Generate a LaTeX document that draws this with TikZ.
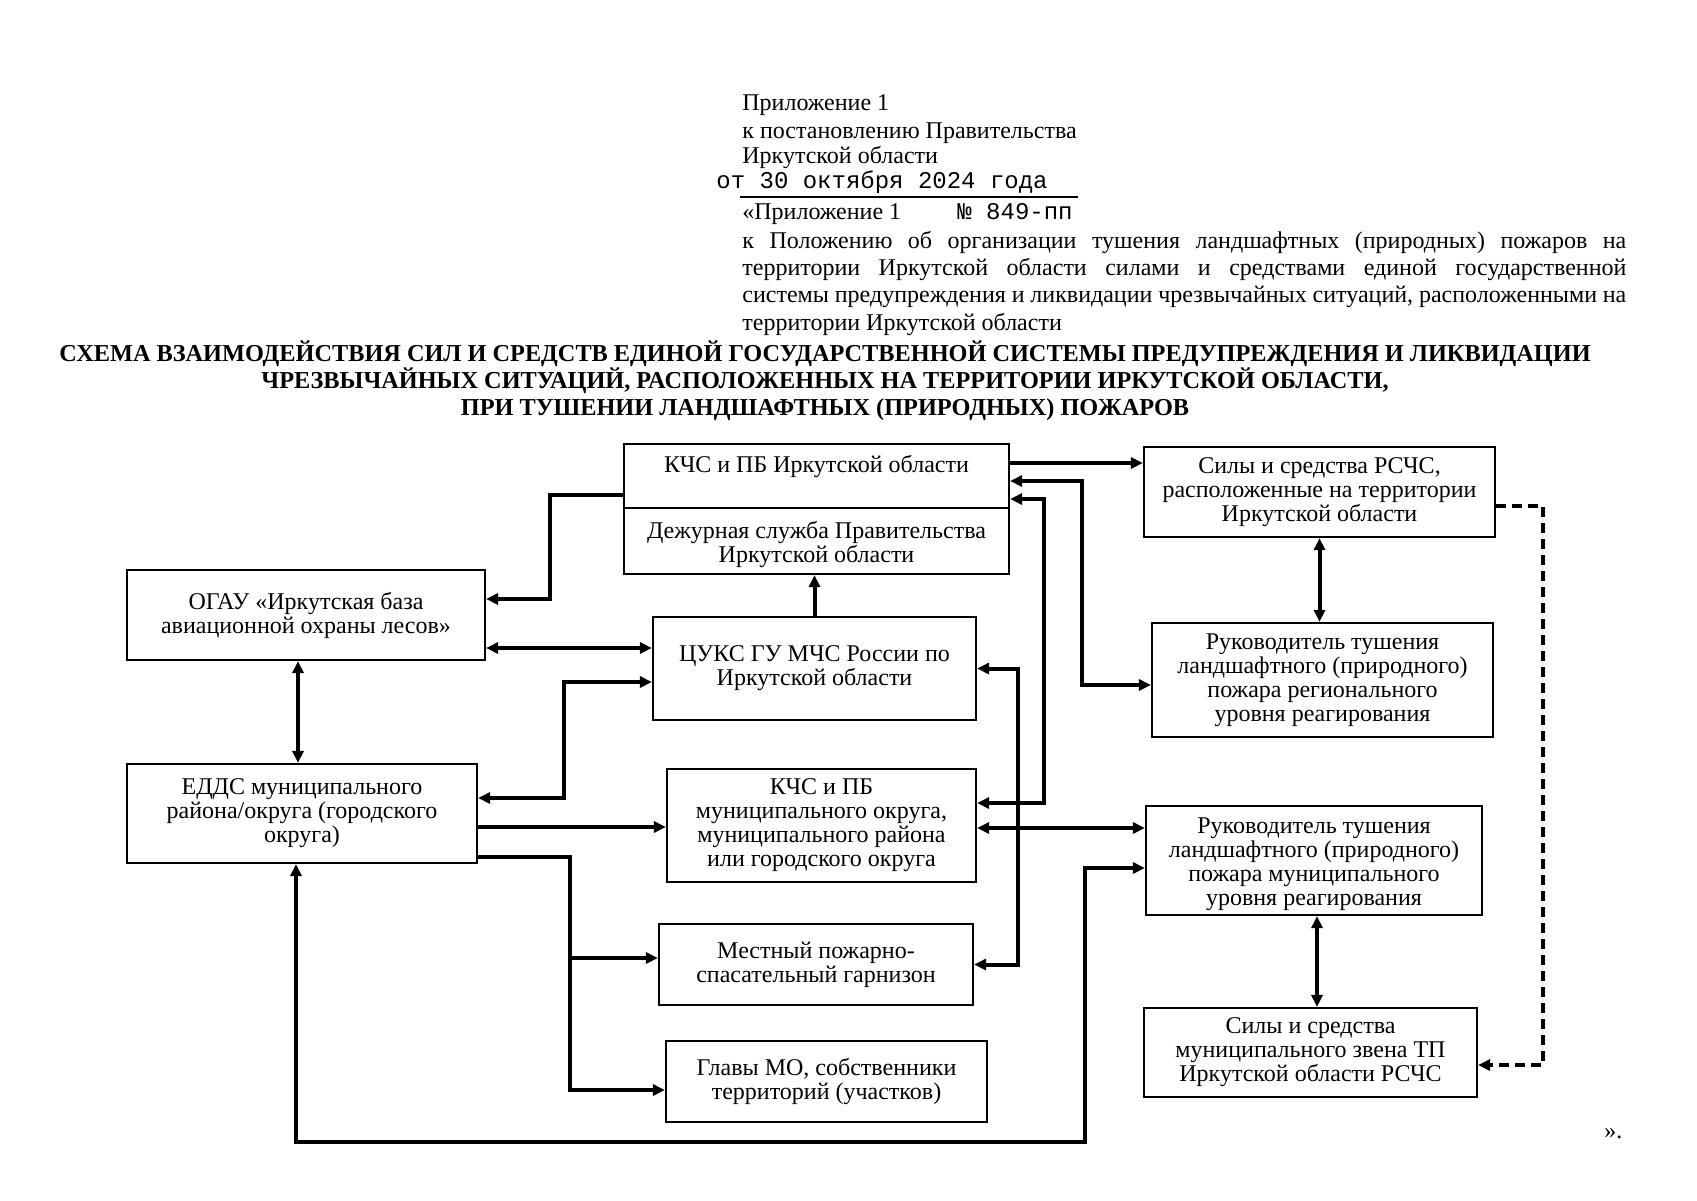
\documentclass[tikz,border=0pt]{standalone}
\usepackage{fontspec}
\setmainfont{Liberation Serif}
\setmonofont{Liberation Mono}
\usetikzlibrary{arrows.meta}

\begin{document}
\begin{tikzpicture}[x=0.5pt, y=0.5pt, >={Triangle[length=6pt,width=5.5pt]},
  box/.style={draw, line width=1.1pt, align=center, inner sep=0pt, font=\fontsize{12}{12}\selectfont},
  link/.style={line width=2pt},
  hdr/.style={anchor=base west, inner sep=0pt, font=\fontsize{12}{13.7}\selectfont},
  mono/.style={hdr, font=\ttfamily\fontsize{12}{13.7}\selectfont}]
\fill[white] (0,0) rectangle (1697,-1200);
\node[hdr] (app) at (742,-110) {Приложение 1};
\node[hdr] (decree) at (742,-138) {к постановлению Правительства};
\node[hdr] (region) at (742,-163) {Иркутской области};
\node[mono] (date) at (716,-188) {от 30 октября 2024 года};
\draw[line width=0.6pt] (740,-197) -- (1078,-197);
\node[hdr] (app2) at (742,-219) {«Приложение 1}; \node[mono] (num) at (957,-219) {№ 849-пп};
\node[hdr, text width=442pt, align=justify] (para) at (742,-248) {\hyphenpenalty=10000 к Положению об организации тушения ландшафтных (природных) пожаров на\linebreak территории Иркутской области силами и средствами единой государственной\linebreak системы предупреждения и ликвидации чрезвычайных ситуаций, расположенными на\linebreak территории Иркутской области};
\node[font=\bfseries\fontsize{12.15}{13.5}\selectfont, align=center] (title) at (825,-381) {СХЕМА ВЗАИМОДЕЙСТВИЯ СИЛ И СРЕДСТВ ЕДИНОЙ ГОСУДАРСТВЕННОЙ СИСТЕМЫ ПРЕДУПРЕЖДЕНИЯ И ЛИКВИДАЦИИ\\ЧРЕЗВЫЧАЙНЫХ СИТУАЦИЙ, РАСПОЛОЖЕННЫХ НА ТЕРРИТОРИИ ИРКУТСКОЙ ОБЛАСТИ,\\ПРИ ТУШЕНИИ ЛАНДШАФТНЫХ (ПРИРОДНЫХ) ПОЖАРОВ};

\node[box, minimum width=192.5pt, minimum height=32pt] (kchsobl) at (816.5,-476) {КЧС и ПБ Иркутской области\\\mbox{}};
\node[box, minimum width=192.5pt, minimum height=33pt] (dezh) at (816.5,-541) {\strut\\[-9.5pt]Дежурная служба Правительства\\Иркутской области};
\node[box, minimum width=175.5pt, minimum height=45pt] (silyrschs) at (1319.5,-492) {Силы и средства РСЧС,\\расположенные на территории\\Иркутской области};
\node[box, minimum width=179pt, minimum height=45pt] (ogau) at (306,-615) {ОГАУ «Иркутская база\\авиационной охраны лесов»};
\node[box, minimum width=161.5pt, minimum height=51.5pt] (tsuks) at (814.5,-668.5) {ЦУКС ГУ МЧС России по\\Иркутской области};
\node[box, minimum width=170.5pt, minimum height=57pt] (rukreg) at (1322.5,-680) {Руководитель тушения\\ландшафтного (природного)\\пожара регионального\\уровня реагирования};
\node[box, minimum width=175pt, minimum height=49.5pt] (edds) at (302,-813.5) {ЕДДС муниципального\\района/округа (городского\\округа)};
\node[box, minimum width=154.5pt, minimum height=56.5pt] (kchsmun) at (821.5,-825.5) {КЧС и ПБ\\муниципального округа,\\муниципального района\\или городского округа};
\node[box, minimum width=168pt, minimum height=54.5pt] (rukmun) at (1314,-860.5) {\strut\\[-8.5pt]Руководитель тушения\\ландшафтного (природного)\\пожара муниципального\\уровня реагирования};
\node[box, minimum width=157pt, minimum height=40.5pt] (mestny) at (816,-964.5) {Местный пожарно-\\спасательный гарнизон};
\node[box, minimum width=160.5pt, minimum height=40.5pt] (glavy) at (826.5,-1081.5) {Главы МО, собственники\\территорий (участков)};
\node[box, minimum width=166.5pt, minimum height=44.5pt] (silymun) at (1310.5,-1052.5) {Силы и средства\\муниципального звена ТП\\Иркутской области РСЧС};
\node[hdr] (close) at (1604,-1138) {».};

\draw[link,->] ([yshift=6.5pt]kchsobl.east) -- ([yshift=6.5pt]kchsobl.east -| silyrschs.west);
\draw[link,<->] ([yshift=-2.5pt]kchsobl.east) -- ++(72,0) |- ([yshift=-2.5pt]rukreg.west);
\draw[link,<->] ([yshift=-11.5pt]kchsobl.east) -- ++(34,0) |- ([yshift=11.25pt]kchsmun.east);
\draw[link,->] (tsuks.north) -- (tsuks.north |- dezh.south);
\draw[link,->] ([yshift=-9.5pt]kchsobl.west) -- ++(-73,0) |- ([yshift=8pt]ogau.east);
\draw[link,<->] ([yshift=-16.5pt]ogau.east) -- ([yshift=-16.5pt]ogau.east -| tsuks.west);
\draw[link,<->] ([yshift=7.75pt]edds.east) -- ++(86,0) |- ([yshift=-6.75pt]tsuks.west);
\draw[link,<->] ([xshift=-2pt]edds.north) -- ([xshift=-2pt]edds.north |- ogau.south);
\draw[link,->] ([yshift=-6.75pt]edds.east) -- ([yshift=-6.75pt]edds.east -| kchsmun.west);
\draw[link,->] ([yshift=-21.75pt]edds.east) -- ++(92,0) |- ([yshift=-4.25pt]glavy.west);
\draw[link,<-] ([yshift=3.25pt]mestny.west) -- ++(-90,0);
\draw[link,<->] (tsuks.east) -- ++(41,0) |- (mestny.east);
\draw[link,<->] ([yshift=-1.25pt]kchsmun.east) -- ([yshift=-1.25pt]kchsmun.east -| rukmun.west);
\draw[link,<->] (silyrschs.south) -- (silyrschs.south |- rukreg.north);
\draw[link,<->] ([xshift=1.5pt]rukmun.south) -- ([xshift=1.5pt]rukmun.south |- silymun.north);
\draw[link,->,dash pattern=on 5pt off 3pt] ([yshift=-7pt]silyrschs.east) -- ++(47,0) |- ([yshift=-6.25pt]silymun.east);
\draw[link,<->] ([yshift=-3.75pt]rukmun.west) -- ++(-60,0) -- ++(0,-274) -| ([xshift=-3pt]edds.south);
\end{tikzpicture}
\end{document}
